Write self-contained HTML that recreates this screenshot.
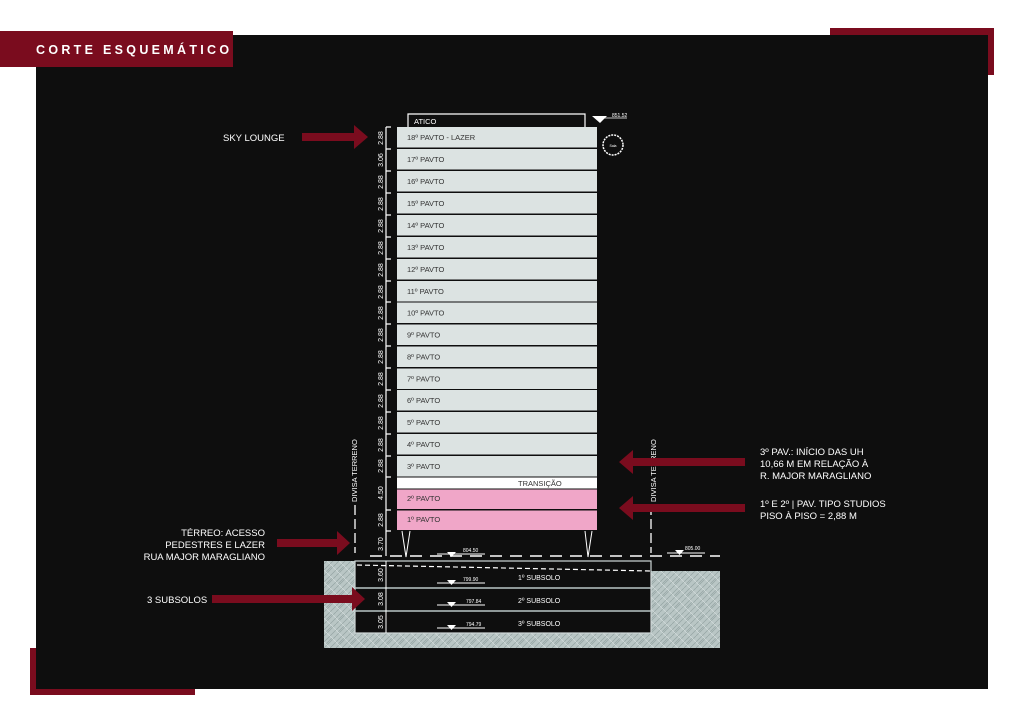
<!DOCTYPE html>
<html><head><meta charset="utf-8"><style>
html,body{margin:0;padding:0;background:#fff;}
svg{display:block;font-family:"Liberation Sans",sans-serif;}
</style></head><body>
<svg width="1024" height="724" viewBox="0 0 1024 724" xmlns="http://www.w3.org/2000/svg">
<defs>
<pattern id="h" width="12" height="12" patternUnits="userSpaceOnUse">
<rect width="12" height="12" fill="#b9c6c5"/>
<path d="M0 6 L6 0 M6 12 L12 6 M2 8 L8 2 M0 12 L12 0" stroke="#93a3a2" stroke-width="0.7"/>
<path d="M6 0 L12 6 M0 6 L6 12" stroke="#d3dcdb" stroke-width="0.7"/>
</pattern>
</defs>
<rect x="830" y="28" width="164" height="47" fill="#7a0c1e"/>
<rect x="30" y="648" width="165" height="47" fill="#7a0c1e"/>
<rect x="36" y="35" width="952" height="654" fill="#0e0e0e"/>
<rect x="0" y="31" width="233" height="36" fill="#7a0c1e"/>
<text x="36" y="54" fill="#fff" font-size="12.5" font-weight="bold" letter-spacing="3.3">CORTE ESQUEMÁTICO</text>

<!-- ground hatch -->
<rect x="324" y="561" width="396" height="87" fill="url(#h)"/>
<rect x="651" y="561" width="69" height="10" fill="#0e0e0e"/>
<rect x="355" y="561" width="296" height="72" fill="#0e0e0e" stroke="#cfd8d8" stroke-width="1.2"/>
<line x1="355" y1="588" x2="651" y2="588" stroke="#b9c6c5" stroke-width="1.5"/>
<line x1="355" y1="611" x2="651" y2="611" stroke="#b9c6c5" stroke-width="1.5"/>
<path d="M357 565 L651 571" stroke="#fff" stroke-width="1.2" stroke-dasharray="5 3"/>
<line x1="386" y1="561" x2="386" y2="633" stroke="#fff" stroke-width="1"/>
<g fill="#fff" font-size="7">
<text x="518" y="580">1º SUBSOLO</text><text x="518" y="603">2º SUBSOLO</text><text x="518" y="626">3º SUBSOLO</text>
</g>
<g stroke="#fff" stroke-width="1"><line x1="437" y1="583" x2="485" y2="583"/><line x1="437" y1="605" x2="485" y2="605"/><line x1="437" y1="628" x2="485" y2="628"/></g>
<g fill="#fff"><path d="M447 580 l9 0 l-4.5 5z"/><path d="M447 602 l9 0 l-4.5 5z"/><path d="M447 625 l9 0 l-4.5 5z"/></g>
<g fill="#fff" font-size="5"><text x="463" y="581">799.90</text><text x="466" y="603">797.84</text><text x="466" y="626">794.79</text></g>

<!-- ground line -->
<path d="M370 556 L720 556" stroke="#fff" stroke-width="1.5" stroke-dasharray="12 8"/>
<g stroke="#fff" stroke-width="1"><line x1="437" y1="554" x2="485" y2="554"/><line x1="667" y1="553" x2="705" y2="553"/></g>
<path d="M447 552 l9 0 l-4.5 5z M675 550 l9 0 l-4.5 5z" fill="#fff"/>
<g fill="#fff" font-size="5"><text x="463" y="552">804.50</text><text x="685" y="550">805.00</text></g>
<path d="M402 531 L406 557 L410 531 M585 531 L588 557 L592 531" stroke="#fff" stroke-width="1" fill="none"/>

<!-- divisa -->
<path d="M355 505 L355 553" stroke="#fff" stroke-width="1.3" stroke-dasharray="10 4"/>
<path d="M651 505 L651 553" stroke="#fff" stroke-width="1.3" stroke-dasharray="10 4"/>
<text transform="translate(357,502) rotate(-90)" fill="#fff" font-size="7.5">DIVISA TERRENO</text>
<text transform="translate(656,502) rotate(-90)" fill="#fff" font-size="7.5">DIVISA TERRENO</text>

<!-- atico -->
<path d="M408 127 L408 114 L585 114 L585 127" stroke="#fff" stroke-width="1.2" fill="none"/>
<text x="414" y="124" fill="#fff" font-size="7.5">ATICO</text>
<path d="M592 116 L607 116 L600 123z" fill="#fff"/>
<line x1="597" y1="118" x2="627" y2="118" stroke="#fff" stroke-width="0.8"/>
<text x="612" y="117" fill="#fff" font-size="5">851.52</text>
<circle cx="613" cy="145" r="10" fill="none" stroke="#fff" stroke-width="1.5" stroke-dasharray="2 1"/>
<text x="613" y="147" fill="#fff" font-size="3.5" text-anchor="middle">Sala</text>

<!-- floors -->
<g fill="#dce3e2">
<rect x="397" y="127" width="200" height="20.5"/><rect x="397" y="149" width="200" height="20.5"/>
<rect x="397" y="171" width="200" height="20.5"/><rect x="397" y="193" width="200" height="20.5"/>
<rect x="397" y="215" width="200" height="20.5"/><rect x="397" y="237" width="200" height="20.5"/>
<rect x="397" y="259" width="200" height="20.5"/><rect x="397" y="281" width="200" height="20.5"/>
<rect x="397" y="302.5" width="200" height="20.5"/><rect x="397" y="324.5" width="200" height="20.5"/>
<rect x="397" y="346.5" width="200" height="20.5"/><rect x="397" y="368.5" width="200" height="20.5"/>
<rect x="397" y="390" width="200" height="20.5"/><rect x="397" y="412" width="200" height="20.5"/>
<rect x="397" y="434" width="200" height="20.5"/><rect x="397" y="456" width="200" height="20.5"/>
</g>
<rect x="397" y="477.5" width="200" height="11" fill="#fff"/>
<rect x="397" y="489.5" width="200" height="19.5" fill="#f0a6c8"/>
<rect x="397" y="510.5" width="200" height="19.5" fill="#f0a6c8"/>
<g fill="#333" font-size="7.5">
<text x="407" y="140">18º PAVTO - LAZER</text><text x="407" y="162">17º PAVTO</text>
<text x="407" y="184">16º PAVTO</text><text x="407" y="206">15º PAVTO</text>
<text x="407" y="228">14º PAVTO</text><text x="407" y="250">13º PAVTO</text>
<text x="407" y="272">12º PAVTO</text><text x="407" y="294">11º PAVTO</text>
<text x="407" y="315.5">10º PAVTO</text><text x="407" y="337.5">9º PAVTO</text>
<text x="407" y="359.5">8º PAVTO</text><text x="407" y="381.5">7º PAVTO</text>
<text x="407" y="403">6º PAVTO</text><text x="407" y="425">5º PAVTO</text>
<text x="407" y="447">4º PAVTO</text><text x="407" y="469">3º PAVTO</text>
<text x="518" y="486">TRANSIÇÃO</text>
<text x="407" y="501">2º PAVTO</text><text x="407" y="522">1º PAVTO</text>
</g>

<!-- dimension line -->
<line x1="386" y1="127" x2="386" y2="556" stroke="#fff" stroke-width="1.2"/>
<g stroke="#fff" stroke-width="1.2">
<path d="M386 127h5M386 149h5M386 171h5M386 193h5M386 215h5M386 237h5M386 259h5M386 281h5M386 302h5M386 324h5M386 346h5M386 368h5M386 390h5M386 412h5M386 434h5M386 456h5M386 477h5M386 510h5M386 531h5"/>
</g>
<g fill="#fff" font-size="7" text-anchor="middle">
<text transform="translate(383,138) rotate(-90)">2.88</text>
<text transform="translate(383,160) rotate(-90)">3.06</text>
<text transform="translate(383,182) rotate(-90)">2.88</text>
<text transform="translate(383,204) rotate(-90)">2.88</text>
<text transform="translate(383,226) rotate(-90)">2.88</text>
<text transform="translate(383,248) rotate(-90)">2.88</text>
<text transform="translate(383,270) rotate(-90)">2.88</text>
<text transform="translate(383,292) rotate(-90)">2.88</text>
<text transform="translate(383,313) rotate(-90)">2.88</text>
<text transform="translate(383,335) rotate(-90)">2.88</text>
<text transform="translate(383,357) rotate(-90)">2.88</text>
<text transform="translate(383,379) rotate(-90)">2.88</text>
<text transform="translate(383,401) rotate(-90)">2.88</text>
<text transform="translate(383,423) rotate(-90)">2.88</text>
<text transform="translate(383,445) rotate(-90)">2.88</text>
<text transform="translate(383,466) rotate(-90)">2.88</text>
<text transform="translate(383,493) rotate(-90)">4.50</text>
<text transform="translate(383,520) rotate(-90)">2.88</text>
<text transform="translate(383,544) rotate(-90)">3.70</text>
<text transform="translate(383,575) rotate(-90)">3.60</text>
<text transform="translate(383,599) rotate(-90)">3.08</text>
<text transform="translate(383,622) rotate(-90)">3.05</text>
</g>

<!-- arrows -->
<g fill="#7a0c1e">
<path d="M302 133h52v-8l14 12l-14 12v-8h-52z"/>
<path d="M277 539h60v-8l13 12l-13 12v-8h-60z"/>
<path d="M212 595h140v-8l13 12l-13 12v-8h-140z"/>
<path d="M745 458h-112v-8l-14 12l14 12v-8h112z"/>
<path d="M745 504h-112v-8l-14 12l14 12v-8h112z"/>
</g>
<g fill="#fff" font-size="9.5">
<text x="223" y="141">SKY LOUNGE</text>
<text x="265" y="536" text-anchor="end">TÉRREO: ACESSO</text>
<text x="265" y="548" text-anchor="end">PEDESTRES E LAZER</text>
<text x="265" y="560" text-anchor="end">RUA MAJOR MARAGLIANO</text>
<text x="147" y="603">3 SUBSOLOS</text>
<text x="760" y="455">3º PAV.: INÍCIO DAS UH</text>
<text x="760" y="467">10,66 M EM RELAÇÃO À</text>
<text x="760" y="479">R. MAJOR MARAGLIANO</text>
<text x="760" y="507">1º E 2º | PAV. TIPO STUDIOS</text>
<text x="760" y="519">PISO À PISO = 2,88 M</text>
</g>
</svg>
</body></html>
